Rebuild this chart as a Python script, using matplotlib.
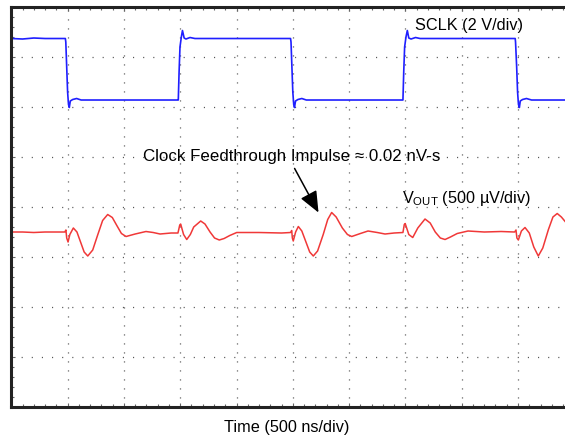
import matplotlib
matplotlib.use("Agg")
import matplotlib.pyplot as plt
from matplotlib.ticker import MultipleLocator

# time in ns (500 ns/div), traces in screen divisions (centre line = 0)
sclk_t = [0, 100, 200, 300, 400, 480, 484, 492, 500, 508, 515, 524, 545, 580, 620, 900, 1200, 1475,
          1483, 1490, 1498, 1510, 1520, 1535, 1551, 1587, 1631, 2000, 2480,
          2484, 2492, 2500, 2508, 2515, 2524, 2545, 2580, 2620, 3000, 3475,
          3478, 3485, 3493, 3505, 3517, 3530, 3550, 3590, 3630, 4000, 4475,
          4478, 4488, 4496, 4504, 4512, 4520, 4540, 4575, 4620, 5000]
sclk_v = [3.37, 3.36, 3.38, 3.37, 3.37, 3.37, 3.30, 2.80, 2.30, 2.05, 1.99, 2.12, 2.15, 2.17, 2.14, 2.14, 2.14, 2.14,
          2.14, 2.70, 3.20, 3.40, 3.53, 3.38, 3.36, 3.39, 3.37, 3.37, 3.37,
          3.30, 2.80, 2.30, 2.05, 1.99, 2.12, 2.15, 2.17, 2.14, 2.14, 2.14,
          2.14, 2.70, 3.20, 3.40, 3.53, 3.38, 3.36, 3.39, 3.37, 3.37, 3.37,
          3.30, 2.80, 2.30, 2.05, 1.99, 2.12, 2.15, 2.17, 2.14, 2.14]

vout_t = [0, 100, 200, 300, 400, 475, 485, 492, 504, 520, 551, 583, 615, 647, 679, 723, 767, 811, 856,
          897, 937, 978, 1019, 1100, 1196, 1260, 1321, 1420, 1480,
          1496, 1504, 1530, 1558, 1590, 1620, 1682, 1720, 1765, 1805, 1847, 1890, 1940, 2002, 2200, 2400, 2480,
          2490, 2496, 2504, 2525, 2549, 2580, 2620, 2650, 2682, 2720, 2770, 2810, 2845, 2885, 2940, 2985, 3023,
          3100, 3168, 3250, 3319, 3400, 3478,
          3490, 3498, 3530, 3565, 3610, 3674, 3720, 3765, 3810, 3852, 3900, 3960, 4056, 4200, 4350, 4470,
          4482, 4490, 4503, 4530, 4562, 4600, 4640, 4680, 4720, 4770, 4810, 4848, 4885, 4922]
vout_v = [-0.50, -0.50, -0.51, -0.50, -0.50, -0.50, -0.46, -0.62, -0.70, -0.55, -0.42, -0.50, -0.70, -0.90, -0.98,
          -0.86, -0.56, -0.27, -0.15, -0.21, -0.37, -0.53, -0.59, -0.54, -0.49, -0.51, -0.54, -0.52, -0.52,
          -0.36, -0.34, -0.55, -0.65, -0.55, -0.40, -0.28, -0.34, -0.50, -0.62, -0.66, -0.63, -0.57, -0.51,
          -0.51, -0.52, -0.51,
          -0.47, -0.62, -0.68, -0.50, -0.39, -0.48, -0.72, -0.90, -0.98, -0.88, -0.55, -0.25, -0.11, -0.20,
          -0.42, -0.55, -0.59, -0.53, -0.48, -0.51, -0.54, -0.52, -0.51,
          -0.35, -0.33, -0.55, -0.61, -0.42, -0.24, -0.32, -0.50, -0.62, -0.65, -0.60, -0.53, -0.48, -0.50,
          -0.49, -0.50,
          -0.46, -0.62, -0.66, -0.48, -0.41, -0.52, -0.80, -0.98, -0.82, -0.45, -0.20, -0.13, -0.20, -0.30]


def main():
	plt.rcParams['font.family'] = ['Liberation Sans', 'DejaVu Sans']
	plt.rcParams['mathtext.fontset'] = 'custom'
	plt.rcParams['mathtext.rm'] = 'Liberation Sans'

	fig = plt.figure(figsize=(5.65, 4.41), dpi=100)
	ax = fig.add_axes([0.020, 0.0771, 0.9965, 0.907])

	ax.plot(sclk_t, sclk_v, color='#1f1fff', lw=1.2)
	ax.plot(vout_t, vout_v, color='#f03838', lw=1.1)

	ax.set_xlim(0, 5000)
	ax.set_ylim(-4, 4)
	ax.xaxis.set_major_locator(MultipleLocator(500))
	ax.yaxis.set_major_locator(MultipleLocator(1))
	ax.xaxis.set_minor_locator(MultipleLocator(100))
	ax.yaxis.set_minor_locator(MultipleLocator(0.2))
	ax.tick_params(which='both', direction='in', labelleft=False, labelbottom=False,
	               top=True, right=True, color='#666666', width=0.8)
	ax.tick_params(which='major', length=3)
	ax.tick_params(which='minor', length=2.5)

	# scope graticule: dotted lines, one dot every 1/5 division
	ax.xaxis.grid(True, color='#555555', lw=0.9, linestyle=(0, (0.9, 6.3)))
	ax.yaxis.grid(True, color='#555555', lw=0.9, linestyle=(0, (0.9, 7.2)))
	ax.set_axisbelow(True)

	for s in ['left', 'top', 'bottom', 'right']:
		ax.spines[s].set_linewidth(2.2)
		ax.spines[s].set_color('#222222')

	ax.text(3585, 3.64, 'SCLK (2 V/div)', fontsize=11.7, va='center', ha='left')
	ax.text(1170, 1.02, 'Clock Feedthrough Impulse \u2248 0.02 nV-s', fontsize=12.2, va='center', ha='left')
	ax.text(3469, 0.17, r'V$_{\mathregular{OUT}}$ (500 µV/div)', fontsize=11.7, va='center', ha='left')
	ax.annotate('', xy=(2740, -0.16), xytext=(2504, 0.82),
	            arrowprops=dict(arrowstyle='-|>,head_length=1.3,head_width=0.55', color='black', lw=1.1))

	fig.text(0.508, 0.0295, 'Time (500 ns/div)', fontsize=11.7, ha='center', va='center')

	fig.savefig('out.png', dpi=100)


if __name__ == "__main__":
	main()
